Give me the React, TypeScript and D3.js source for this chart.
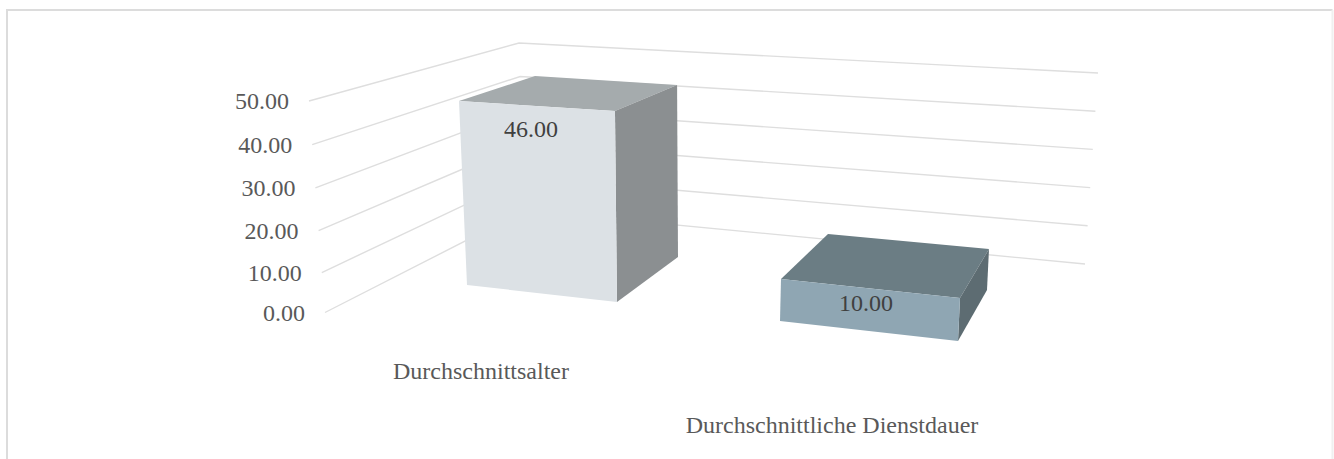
import React from "react";
import * as d3 from "d3";

const categories = ["Durchschnittsalter", "Durchschnittliche Dienstdauer"];
const values = [46, 10];
const valueLabels = ["46.00", "10.00"];
const ticks = [0, 10, 20, 30, 40, 50];
const tickLabels = ["0.00", "10.00", "20.00", "30.00", "40.00", "50.00"];

const W = 1334, H = 459;
const DOMAIN: [number, number] = [0, 50];
const FONT = "'Liberation Serif', 'Times New Roman', serif";
const GRID = "#DEDEDE";

// A rail maps a value to a screen point along one vertical edge of the 3D scene.
type Pt = [number, number];
function rail(base: Pt, top: Pt, exponent = 1) {
  const x = d3.scaleLinear().domain(DOMAIN).range([base[0], top[0]]);
  const y = d3.scalePow().exponent(exponent).domain(DOMAIN).range([base[1], top[1]]);
  return (v: number): Pt => [x(v), y(v)];
}

const frontLeft = rail([325, 312.5], [309, 101], 1.035);
const backLeft = rail([525, 210.5], [519, 43]);
const backRight = rail([1085, 264], [1098, 73]);

const barEdges = [
  {
    fl: rail([467, 285], [458.3, 85]),
    fr: rail([617, 302], [614.8, 94.4]),
    br: rail([678, 257], [677, 70]),
    bl: rail([537, 260], [534.8, 60]),
    faces: { front: "#DCE1E5", top: "#A5ABAD", side: "#8B8F91" },
    labelAt: [531, 137] as Pt,
    catAt: [481, 379] as Pt,
  },
  {
    fl: rail([780, 321], [785, 111]),
    fr: rail([958, 341], [968, 126]),
    br: rail([987, 290], [997, 85]),
    bl: rail([826, 276], [836, 66]),
    faces: { front: "#8FA6B3", top: "#6B7D84", side: "#5D6C72" },
    labelAt: [866, 311] as Pt,
    catAt: [832, 433] as Pt,
  },
];

const line = d3.line<Pt>();
const poly = (pts: Pt[]) => line(pts)! + "Z";

export default function App() {
  return (
    <svg
      width={W}
      height={H}
      viewBox={`0 0 ${W} ${H}`}
      style={{ position: "fixed", left: 0, top: 0, background: "#fff" }}
    >
      <path d="M7,459V10H1332.5" fill="none" stroke="#DCDCDC" strokeWidth={2} />
      <path d="M1332.5,10V459" fill="none" stroke="#F0F0F0" strokeWidth={2} />

      {ticks.map((t, i) => {
        const a = frontLeft(t);
        return (
          <g key={t}>
            <path d={line([a, backLeft(t), backRight(t)])!} fill="none" stroke={GRID} strokeWidth={1.4} />
            <text
              x={a[0] - 20}
              y={a[1] + 8}
              textAnchor="end"
              fontFamily={FONT}
              fontSize={24}
              fill="#595959"
            >
              {tickLabels[i]}
            </text>
          </g>
        );
      })}

      {values.map((v, i) => {
        const b = barEdges[i];
        return (
          <g key={categories[i]}>
            <path d={poly([b.fl(v), b.bl(v), b.br(v), b.fr(v)])} fill={b.faces.top} />
            <path d={poly([b.fr(v), b.br(v), b.br(0), b.fr(0)])} fill={b.faces.side} />
            <path d={poly([b.fl(v), b.fr(v), b.fr(0), b.fl(0)])} fill={b.faces.front} />
            <text
              x={b.labelAt[0]}
              y={b.labelAt[1]}
              textAnchor="middle"
              fontFamily={FONT}
              fontSize={24}
              fill="#404040"
            >
              {valueLabels[i]}
            </text>
            <text
              x={b.catAt[0]}
              y={b.catAt[1]}
              textAnchor="middle"
              fontFamily={FONT}
              fontSize={24}
              fill="#595959"
            >
              {categories[i]}
            </text>
          </g>
        );
      })}
    </svg>
  );
}
